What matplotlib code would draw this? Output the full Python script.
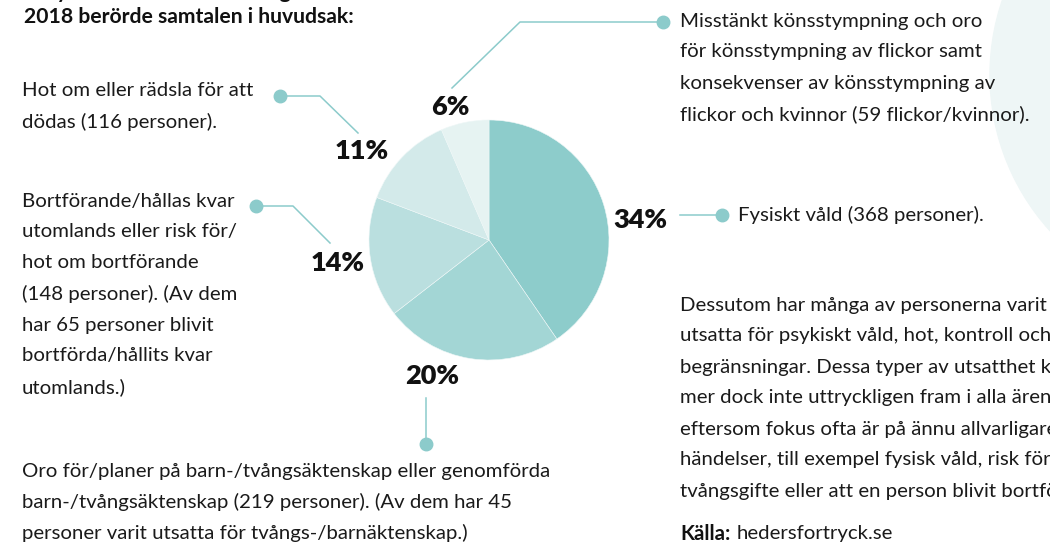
import matplotlib.pyplot as plt
from matplotlib.patches import Circle

# data: persons per category (pie drawn from counts), printed percentages
categories = ["Fysiskt våld", "Barn-/tvångsäktenskap", "Bortförande",
              "Hot om att dödas", "Könsstympning"]
counts = [368, 219, 148, 116, 59]
pct_labels = ["34%", "20%", "14%", "11%", "6%"]
colors = ["#8dcccb", "#a3d6d5", "#badfdf", "#d3eaea", "#e6f3f2"]

TEAL = "#8ccbcb"
FONT = "Lato"
BODY = 14.7
LH = 31  # line height in px

fig = plt.figure(figsize=(10.5, 5.46), dpi=100)
ax = fig.add_axes([0, 0, 1, 1])

# decorative background circle at right edge
ax.add_patch(Circle((1222, 75), 232, color="#eef6f6", zorder=0))

# pie, clockwise from 12 o'clock (y axis inverted)
ax.pie(counts, colors=colors, center=(489, 240), radius=120,
       startangle=-90, counterclock=True,
       wedgeprops=dict(edgecolor="#eef7f7", linewidth=0.4), frame=True)
ax.set_xlim(0, 1050)
ax.set_ylim(546, 0)
ax.set_aspect("equal")
ax.axis("off")


def block(x, y, lines, **kw):
    for i, line in enumerate(lines):
        ax.text(x, y + i * LH, line, ha="left", va="center", family=FONT,
                fontsize=BODY, color="#1a1a1a", **kw)


def connector(pts):
    xs, ys = zip(*pts)
    ax.plot(xs, ys, color=TEAL, lw=1.1, zorder=3)
    ax.plot(xs[0], ys[0], "o", color=TEAL, ms=9, zorder=4)


# title (top line cut off by the crop)
ax.text(24, -8, "för yrkesverksamma och organisationer. Under", ha="left",
        va="center", family=FONT, fontsize=15.2, fontweight="bold", color="#111111")
ax.text(24, 17, "2018 berörde samtalen i huvudsak:", ha="left", va="center",
        family=FONT, fontsize=15.2, fontweight="bold", color="#111111")

# percentage labels
label_pos = [(640, 220), (432, 376), (338, 263), (362, 151), (450, 107)]
for (lx, ly), lab in zip(label_pos, pct_labels):
    ax.text(lx, ly, lab, ha="center", va="center", family=FONT,
            fontsize=19.5, fontweight="heavy", color="#111111")

# connectors
connector([(663, 22), (520, 22), (452, 88)])
connector([(280, 96), (320, 96), (358, 133)])
connector([(256, 206), (293, 206), (330, 243)])
connector([(426, 444), (426, 398)])
connector([(722, 215), (680, 215)])

# descriptions
block(680, 21, ["Misstänkt könsstympning och oro",
                "för könsstympning av flickor samt",
                "konsekvenser av könsstympning av",
                "flickor och kvinnor (59 flickor/kvinnor)."])
block(738, 215, ["Fysiskt våld (368 personer)."])
block(22, 91, ["Hot om eller rädsla för att",
               "dödas (116 personer)."])
block(22, 201, ["Bortförande/hållas kvar",
                "utomlands eller risk för/",
                "hot om bortförande",
                "(148 personer). (Av dem",
                "har 65 personer blivit",
                "bortförda/hållits kvar",
                "utomlands.)"])
block(22, 471, ["Oro för/planer på barn-/tvångsäktenskap eller genomförda",
                "barn-/tvångsäktenskap (219 personer). (Av dem har 45",
                "personer varit utsatta för tvångs-/barnäktenskap.)"])
block(680, 305, ["Dessutom har många av personerna varit",
                 "utsatta för psykiskt våld, hot, kontroll och",
                 "begränsningar. Dessa typer av utsatthet kom",
                 "mer dock inte uttryckligen fram i alla ärenden",
                 "eftersom fokus ofta är på ännu allvarligare",
                 "händelser, till exempel fysisk våld, risk för",
                 "tvångsgifte eller att en person blivit bortförd."])
ax.text(680, 534, "Källa:", ha="left", va="center", family=FONT,
        fontsize=BODY, fontweight="bold", color="#111111")
ax.text(737, 534, "hedersfortryck.se", ha="left", va="center", family=FONT,
        fontsize=BODY, color="#1a1a1a")

fig.savefig("out.png", dpi=100)
